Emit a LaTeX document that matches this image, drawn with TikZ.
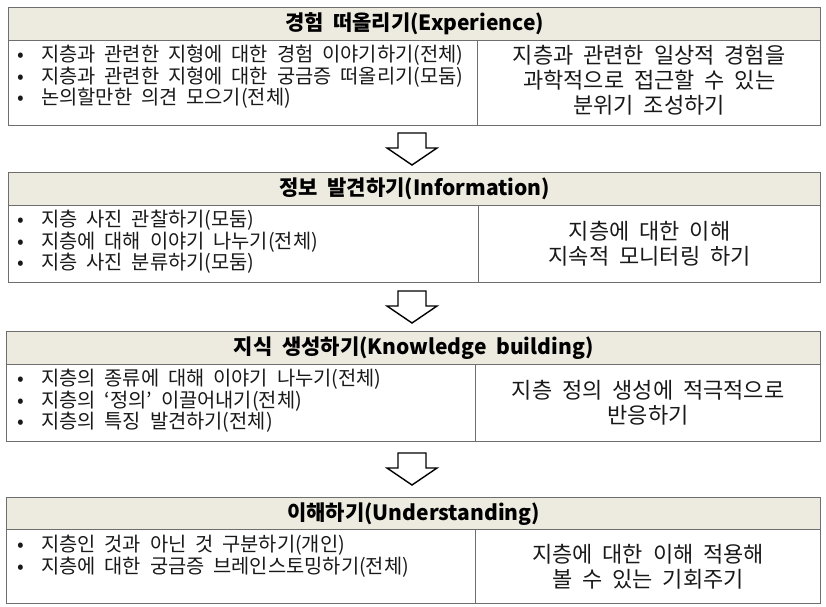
\documentclass[tikz,border=0pt]{standalone}
\usepackage{fontspec}
\setmainfont{Noto Sans CJK KR}[WordSpace=2]
\usetikzlibrary{calc}
\definecolor{hdrfill}{RGB}{237,234,224}
\definecolor{framec}{RGB}{110,110,110}
\definecolor{txtc}{RGB}{25,25,25}
\newcommand{\bul}{\makebox[26pt][l]{\hspace{2pt}•}}
\tikzset{
  frame/.style={draw=framec, line width=1.3pt, inner sep=0pt, anchor=north west},
  hdr/.style={frame, fill=hdrfill},
  hdrtext/.style={font=\bfseries\fontsize{21}{24}\selectfont, text=black, inner sep=0pt},
  ltext/.style={font=\fontsize{19.8}{21.5}\selectfont, text=txtc, align=left, inner sep=0pt, anchor=north west},
  rtext/.style={font=\fontsize{22}{25}\selectfont, text=txtc, align=center, inner sep=0pt},
  downarr/.pic={\draw[line width=1.4pt, fill=white, line join=miter]
     (-14,0) -- (14,0) -- (14,15) -- (25,15) -- (0,32) -- (-25,15) -- (-14,15) -- cycle;}
}
\begin{document}
\begin{tikzpicture}[x=1pt,y=-1pt]
\useasboundingbox (0,0) rectangle (826,606);
% ---------- block 1
\node[hdr, minimum width=812pt, minimum height=33pt] (h1) at (8,7) {};
\node[hdrtext] (t1) at (h1.center) {경험 떠올리기(Experience)};
\node[frame, minimum width=469pt, minimum height=85pt] (l1) at (8,40) {};
\node[frame, minimum width=343pt, minimum height=85pt] (r1) at (477,40) {};
\node[ltext] (lt1) at ($(l1.north west)+(7,5)$) {\bul 지층과 관련한 지형에 대한 경험 이야기하기(전체)\\ \bul 지층과 관련한 지형에 대한 궁금증 떠올리기(모둠)\\ \bul 논의할만한 의견 모으기(전체)};
\node[rtext] (rt1) at ($(r1.center)+(0,-3)$) {지층과 관련한 일상적 경험을\\과학적으로 접근할 수 있는\\분위기 조성하기};
\pic at (412,133) {downarr};
% ---------- block 2
\node[hdr, minimum width=812pt, minimum height=33pt] (h2) at (8,172) {};
\node[hdrtext] (t2) at (h2.center) {정보 발견하기(Information)};
\node[frame, minimum width=470pt, minimum height=77pt] (l2) at (8,205) {};
\node[frame, minimum width=342pt, minimum height=77pt] (r2) at (478,205) {};
\node[ltext] (lt2) at ($(l2.north west)+(7,5)$) {\bul 지층 사진 관찰하기(모둠)\\ \bul 지층에 대해 이야기 나누기(전체)\\ \bul 지층 사진 분류하기(모둠)};
\node[rtext] (rt2) at (r2.center) {지층에 대한 이해\\지속적 모니터링 하기};
\pic at (412,291) {downarr};
% ---------- block 3
\node[hdr, minimum width=814pt, minimum height=33pt] (h3) at (6,331) {};
\node[hdrtext] (t3) at (h3.center) {지식 생성하기(Knowledge building)};
\node[frame, minimum width=469pt, minimum height=77pt] (l3) at (6,364) {};
\node[frame, minimum width=345pt, minimum height=77pt] (r3) at (475,364) {};
\node[ltext] (lt3) at ($(l3.north west)+(9,5)$) {\bul 지층의 종류에 대해 이야기 나누기(전체)\\ \bul 지층의 ‘정의’ 이끌어내기(전체)\\ \bul 지층의 특징 발견하기(전체)};
\node[rtext] (rt3) at (r3.center) {지층 정의 생성에 적극적으로\\반응하기};
\pic at (412,453) {downarr};
% ---------- block 4
\node[hdr, minimum width=814pt, minimum height=32pt] (h4) at (6,497) {};
\node[hdrtext] (t4) at (h4.center) {이해하기(Understanding)};
\node[frame, minimum width=469pt, minimum height=74pt] (l4) at (6,529) {};
\node[frame, minimum width=345pt, minimum height=74pt] (r4) at (475,529) {};
\node[ltext] (lt4) at ($(l4.north west)+(9,6)$) {\bul 지층인 것과 아닌 것 구분하기(개인)\\ \bul 지층에 대한 궁금증 브레인스토밍하기(전체)};
\node[rtext] (rt4) at (r4.center) {지층에 대한 이해 적용해\\볼 수 있는 기회주기};
\end{tikzpicture}
\end{document}
